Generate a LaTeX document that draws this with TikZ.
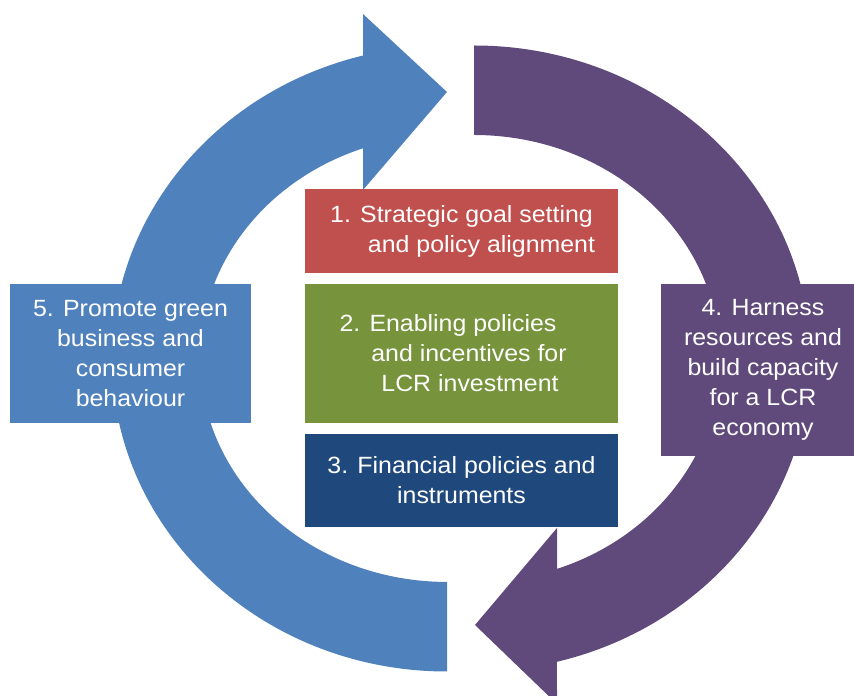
\documentclass[tikz,border=0pt]{standalone}
\usepackage{fontspec}
\setmainfont{Liberation Sans}[FakeStretch=1.06]
\definecolor{cblue}{HTML}{4F81BD}
\definecolor{cpurple}{HTML}{604A7B}
\definecolor{cred}{HTML}{C0504D}
\definecolor{cgreen}{HTML}{77933C}
\definecolor{cnavy}{HTML}{1F497D}
\tikzset{
  boxstyle/.style={rectangle, inner sep=0pt, text=white, align=center,
    font=\fontsize{23.5}{30}\selectfont},
}
\begin{document}
\begin{tikzpicture}[x=1pt,y=1pt]
\useasboundingbox (0,0) rectangle (854,696);
\clip (0,0) rectangle (854,696);
% blue circular arrow (left half)
\fill[cblue] (447,24.5) arc[start angle=270, end angle=104.5, x radius=335pt, y radius=313pt]
  -- (363,682) -- (447,604) -- (363,506) -- (363,547.7)
  arc[start angle=109.9, end angle=270, x radius=247pt, y radius=223.5pt] -- cycle;
% purple circular arrow (right half)
\fill[cpurple] (474,650.5) arc[start angle=90, end angle=-75.7, x radius=336pt, y radius=313pt]
  -- (557,-8) -- (475,71) -- (557,168) -- (557,127.1)
  arc[start angle=-70.3, end angle=90, x radius=246pt, y radius=223.5pt] -- cycle;
% boxes
\node[boxstyle, fill=cred, minimum width=313pt, minimum height=84pt] (b1) at (461.5,465)
  {1. Strategic goal setting\\ \hspace*{40pt}and policy alignment};
\node[boxstyle, fill=cgreen, minimum width=313pt, minimum height=139pt] (b2) at (461.5,342.5)
  {2. Enabling policies\hspace*{27pt}\\ \hspace*{15pt}and incentives for\\ \hspace*{17pt}LCR investment};
\node[boxstyle, fill=cnavy, minimum width=313pt, minimum height=93pt] (b3) at (461.5,215.5)
  {3. Financial policies and\\ instruments};
\node[boxstyle, fill=cblue, minimum width=241pt, minimum height=139pt] (b5) at (130.5,342.5)
  {5. Promote green\\ business and\\ consumer\\ behaviour};
\node[boxstyle, fill=cpurple, minimum width=193pt, minimum height=172pt] (b4) at (757.5,326)
  {\hspace*{11pt}4. Harness\\ \hspace*{11pt}resources and\\ \hspace*{11pt}build capacity\\ \hspace*{11pt}for a LCR\\ \hspace*{11pt}economy};
\end{tikzpicture}
\end{document}
